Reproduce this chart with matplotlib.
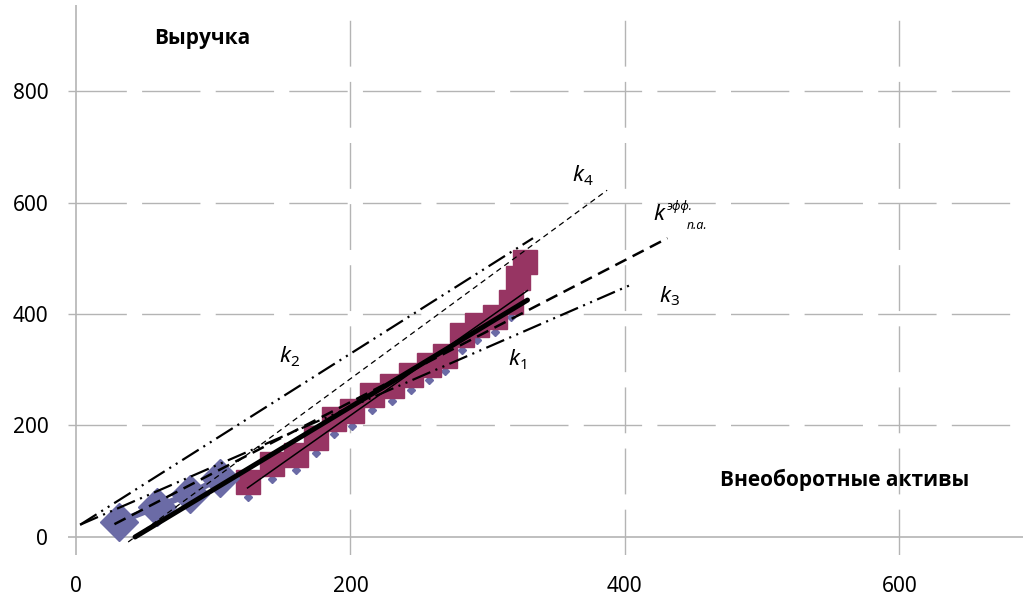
import matplotlib
matplotlib.use("Agg")
import matplotlib.pyplot as plt

plt.rcParams['font.family'] = ['Noto Sans', 'DejaVu Sans']
plt.rcParams['lines.scale_dashes'] = False

# ---- data ----
blue_x = [31, 59, 83, 105]
blue_y = [27, 54, 77, 106]

sq_x = [125, 143, 160, 175, 188, 201, 216, 230, 244, 257, 269, 281, 292, 305, 317, 322, 327]
sq_y = [99, 131, 147, 178, 212, 226, 255, 271, 291, 309, 325, 362, 380, 395, 422, 465, 493]
dot_y = [72, 104, 120, 151, 185, 199, 228, 244, 264, 282, 298, 335, 353, 368, 395, 438, 466]

# trend lines: (x0, y0, x1, y1)
k1_thick = ([43, 329], [0, 425])
k1_thin = ([125, 329], [88, 442])
k2_line = ([3, 333], [22, 536])
k3_line = ([3, 404], [22, 452])
k4_line = ([38, 387], [-9, 622])
keff_line = ([28, 431], [23, 536])

xticks = [0, 200, 400, 600]
yticks = [0, 200, 400, 600, 800]

fig = plt.figure(figsize=(10.27, 5.97), dpi=100)
ax = fig.add_axes([0.066, 0.0697, 0.930, 0.9226])
ax.set_xlim(-6, 690)
ax.set_ylim(-33, 955)
for s in ax.spines.values():
    s.set_visible(False)

grid_c = '#b4b4b4'
for yv in yticks[1:]:
    ax.axhline(yv, color=grid_c, lw=1.0, ls=(0, (42, 11)), zorder=0)
for xv in xticks[1:]:
    ax.axvline(xv, color=grid_c, lw=1.0, ls=(0, (33, 11)), zorder=0)
ax.axhline(0, color=grid_c, lw=1.2, zorder=0)
ax.axvline(0, color=grid_c, lw=1.2, zorder=0)

ax.set_xticks(xticks)
ax.set_yticks(yticks)
ax.tick_params(length=0, labelsize=15, colors='black')
ax.tick_params(axis='x', pad=15)
ax.tick_params(axis='y', pad=14)

# series markers
ax.plot(sq_x, dot_y, ls='none', marker='D', ms=4, color='#6b6ba6', zorder=2)
ax.plot(sq_x, sq_y, ls='none', marker='s', ms=17.5, color='#973563', zorder=3)
ax.plot(blue_x, blue_y, color='#6b6ba6', lw=4.5, marker='D', ms=19, zorder=3)

# lines
ax.plot(*k2_line, color='black', lw=1.6, ls=(0, (14, 4, 1.5, 4, 1.5, 4)), zorder=5)
ax.plot(*k3_line, color='black', lw=1.6, ls=(0, (14, 4, 1.5, 4, 1.5, 4)), zorder=5)
ax.plot(*k4_line, color='black', lw=0.9, ls=(0, (4, 3)), zorder=5)
ax.plot(*keff_line, color='black', lw=1.8, ls=(0, (9, 5)), zorder=5)
ax.plot(*k1_thick, color='black', lw=3.6, solid_capstyle='round', zorder=6)
ax.plot(*k1_thin, color='black', lw=1.1, zorder=6)

# labels
def klabel(x, y, sub):
    ax.text(x, y, 'k', fontsize=16, style='italic', ha='center', va='center', zorder=7)
    ax.annotate(sub, xy=(x, y), xytext=(4, -4), textcoords='offset points',
                fontsize=11, ha='left', va='center', zorder=7)

klabel(152, 323, '2')
klabel(319, 318, '1')
klabel(366, 648, '4')
klabel(429, 432, '3')

ax.text(425, 578, 'k', fontsize=16, style='italic', ha='center', va='center', zorder=7)
ax.annotate('эфф.', xy=(425, 578), xytext=(5, 6), textcoords='offset points',
            fontsize=9, style='italic', ha='left', va='center')
ax.annotate('п.а.', xy=(425, 578), xytext=(20, -8), textcoords='offset points',
            fontsize=9, style='italic', ha='left', va='center')

bold_fam = ['Open Sans', 'DejaVu Sans']
ax.text(92, 895, 'Выручка', fontsize=15, fontweight='bold', family=bold_fam,
        ha='center', va='center')
ax.text(560, 102, 'Внеоборотные активы', fontsize=15, fontweight='bold', family=bold_fam,
        ha='center', va='center')

fig.savefig('out.png', dpi=100)
